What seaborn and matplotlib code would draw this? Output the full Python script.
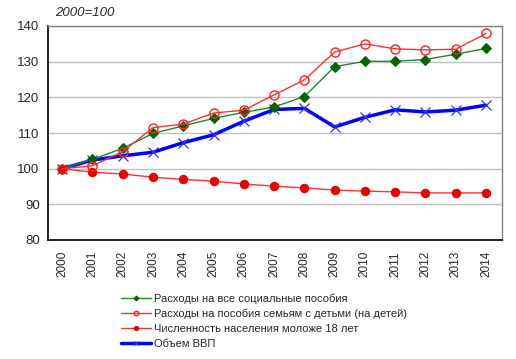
import matplotlib
matplotlib.use("Agg")
import matplotlib.pyplot as plt
import seaborn as sns
import numpy as np
import pandas as pd

years = ['2000', '2001', '2002', '2003', '2004', '2005', '2006', '2007',
         '2008', '2009', '2010', '2011', '2012', '2013', '2014']

vse_posobiya = [100, 102.6, 105.7, 109.9, 112.0, 114.1, 115.8, 117.3,
                120.2, 128.6, 130.1, 130.1, 130.6, 132.1, 133.7]
semyam_s_detmi = [100, 100.8, 104.8, 111.5, 112.5, 115.6, 116.4, 120.7,
                  124.9, 132.7, 135.0, 133.6, 133.3, 133.5, 137.9]
naselenie_18 = [100, 99.0, 98.5, 97.6, 97.0, 96.5, 95.7, 95.1,
                94.6, 94.0, 93.7, 93.5, 93.2, 93.2, 93.2]
vvp = [100, 102.4, 103.6, 104.6, 107.3, 109.5, 113.3, 116.6,
       116.9, 111.7, 114.4, 116.5, 115.9, 116.4, 117.8]

labels = ['Расходы на все социальные пособия',
          'Расходы на пособия семьям с детьми (на детей)',
          'Численность населения моложе 18 лет',
          'Объем ВВП']

sns.set_style("white")
plt.rcParams['font.family'] = ['Liberation Sans', 'DejaVu Sans']

fig = plt.figure(figsize=(5.16, 3.59), dpi=100)
ax = fig.add_axes([48 / 516, 1 - 240 / 359, 454 / 516, 214 / 359])

x = np.arange(len(years))
df = pd.DataFrame({'x': x, 'a': vse_posobiya, 'b': semyam_s_detmi,
                   'c': naselenie_18, 'd': vvp})

ax.yaxis.grid(True, color='#c0c0c0', lw=1)
ax.set_axisbelow(True)

sns.lineplot(data=df, x='x', y='a', ax=ax, color='#1a8a2a', lw=1,
             marker='D', markersize=5, markerfacecolor='#006400',
             markeredgecolor='#006400', label=labels[0], zorder=3)
sns.lineplot(data=df, x='x', y='b', ax=ax, color='#ff3030', lw=1,
             marker='o', markersize=6.5, markerfacecolor='none',
             markeredgecolor='#ff2020', markeredgewidth=1, label=labels[1], zorder=4)
sns.lineplot(data=df, x='x', y='c', ax=ax, color='#ff3030', lw=1,
             marker='o', markersize=6, markerfacecolor='#ee0000',
             markeredgecolor='#dd0000', label=labels[2], zorder=3)
sns.lineplot(data=df, x='x', y='d', ax=ax, color='#0000ff', lw=2.5,
             marker='x', markersize=7, markeredgecolor='#3030ff',
             markeredgewidth=0.9, label=labels[3], zorder=2)

ax.set_xlim(-0.47, 14.53)
ax.set_ylim(80, 140)
ax.set_yticks(range(80, 141, 10))
ax.set_xticks(x)
ax.set_xticklabels(years, rotation=90)
ax.tick_params(axis='y', length=0, labelsize=9.5, pad=6)
ax.tick_params(axis='x', length=0, labelsize=8.5, pad=8)
ax.set_xlabel('')
ax.set_ylabel('')

for side in ['left', 'bottom']:
    ax.spines[side].set_color('black')
    ax.spines[side].set_linewidth(1.2)
for side in ['top', 'right']:
    ax.spines[side].set_color('#808080')
    ax.spines[side].set_linewidth(1)

fig.text(55 / 516, 1 - 13 / 359, '2000=100', fontsize=9.5, style='italic',
         va='center', ha='left')

leg = ax.legend(loc='upper left', bbox_to_anchor=(117 / 516, 1 - 289 / 359),
                bbox_transform=fig.transFigure, frameon=False, fontsize=8,
                handlelength=2.7, handletextpad=0.25, labelspacing=0.45,
                markerscale=0.5, borderaxespad=0)

fig.savefig('out.png', dpi=100)
